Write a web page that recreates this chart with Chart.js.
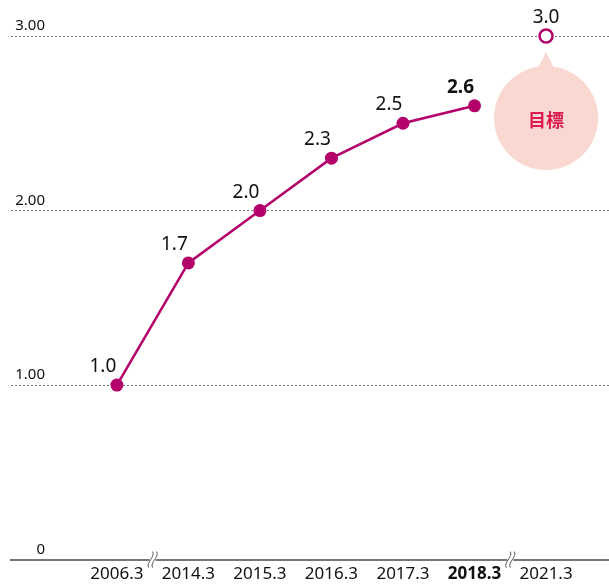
<!DOCTYPE html>
<html>
<head>
<meta charset="utf-8">
<style>
html,body{margin:0;padding:0;background:#fff;}
#wrap{width:609px;height:588px;position:relative;}
</style>
<script src="https://cdn.jsdelivr.net/npm/chart.js@4/dist/chart.umd.min.js"></script>
</head>
<body>
<div id="wrap"><canvas id="c" width="609" height="588"></canvas></div>
<script>
const categories = ['2006.3','2014.3','2015.3','2016.3','2017.3','2018.3','2021.3'];
const actualValues = [1.0, 1.7, 2.0, 2.3, 2.5, 2.6];
const targetValue = 3.0;
const targetIndex = 6;
const yTicks = [0, 1.00, 2.00, 3.00];
const yTickLabels = ['0', '1.00', '2.00', '3.00'];
const boldCategory = '2018.3';
const targetLabel = '目標';
const breaksAfter = [0, 5];

const MAG = '#b3006b';
const FONT = '"Noto Sans", "Open Sans", sans-serif';

const actualData = actualValues.map((v, i) => ({x: i, y: v}));
const targetData = [{x: targetIndex, y: targetValue}];

const decoPlugin = {
  id: 'deco',
  beforeDatasetsDraw(chart) {
    const ctx = chart.ctx;
    const xs = chart.scales.x, ys = chart.scales.y;
    // y tick labels, right-aligned above the grid lines
    ctx.save();
    ctx.fillStyle = '#111';
    ctx.font = '15px ' + FONT;
    ctx.textAlign = 'right';
    ctx.textBaseline = 'alphabetic';
    yTicks.forEach((v, i) => {
      ctx.fillText(yTickLabels[i], chart.chartArea.left + 34, ys.getPixelForValue(v) - 6);
    });
    ctx.restore();
    // target bubble
    const tx = xs.getPixelForValue(targetIndex), ty = ys.getPixelForValue(targetValue);
    ctx.save();
    const bcx = tx, bcy = ty + 82, r = 52;
    ctx.fillStyle = '#f8d8d0';
    ctx.beginPath();
    ctx.arc(bcx, bcy, r, 0, Math.PI * 2);
    ctx.fill();
    ctx.beginPath();
    ctx.moveTo(bcx, ty + 16);
    ctx.lineTo(bcx - 11, bcy - r + 8);
    ctx.lineTo(bcx + 11, bcy - r + 8);
    ctx.closePath();
    ctx.fill();
    ctx.fillStyle = '#dc1a4f';
    ctx.font = 'bold 18px "Noto Sans CJK JP", sans-serif';
    ctx.textAlign = 'center';
    ctx.textBaseline = 'middle';
    ctx.fillText(targetLabel, bcx, bcy + 2);
    ctx.restore();
  },
  afterDatasetsDraw(chart) {
    const ctx = chart.ctx;
    const xs = chart.scales.x, ys = chart.scales.y;
    const yAxis = ys.getPixelForValue(0);
    breaksAfter.forEach(b => {
      const cx = xs.getPixelForValue(b + 0.5);
      ctx.save();
      ctx.fillStyle = '#fff';
      ctx.fillRect(cx - 3, yAxis - 2, 6, 4);
      ctx.strokeStyle = '#555';
      ctx.lineWidth = 1;
      [-2, 2].forEach(dx => {
        ctx.beginPath();
        ctx.moveTo(cx + dx + 2, yAxis - 8);
        ctx.bezierCurveTo(cx + dx + 5, yAxis - 3, cx + dx - 5, yAxis + 3, cx + dx - 2, yAxis + 8);
        ctx.stroke();
      });
      ctx.restore();
    });
    ctx.save();
    ctx.textAlign = 'center';
    ctx.textBaseline = 'alphabetic';
    ctx.fillStyle = '#111';
    actualValues.forEach((v, i) => {
      const px = xs.getPixelForValue(i), py = ys.getPixelForValue(v);
      ctx.font = (categories[i] === boldCategory ? 'bold ' : '') + '19px ' + FONT;
      ctx.fillText(v.toFixed(1), px - 14, py - 13);
    });
    const tx = xs.getPixelForValue(targetIndex), ty = ys.getPixelForValue(targetValue);
    ctx.font = '19px ' + FONT;
    ctx.fillText(targetValue.toFixed(1), tx, ty - 13);
    ctx.restore();
  }
};

new Chart(document.getElementById('c'), {
  type: 'line',
  data: {
    datasets: [
      {
        data: actualData,
        borderColor: MAG,
        backgroundColor: MAG,
        borderWidth: 2.5,
        pointRadius: 6.5,
        pointBackgroundColor: MAG,
        pointBorderWidth: 0,
        tension: 0
      },
      {
        data: targetData,
        showLine: false,
        clip: false,
        borderColor: MAG,
        pointRadius: 6.5,
        pointBackgroundColor: '#fff',
        pointBorderColor: MAG,
        pointBorderWidth: 2.5
      }
    ]
  },
  options: {
    responsive: false,
    animation: false,
    layout: {autoPadding: false, padding: {left: 11, right: 0, top: 36, bottom: 0}},
    plugins: {legend: {display: false}, tooltip: {enabled: false}},
    scales: {
      x: {
        type: 'linear',
        min: -1.48,
        max: 6.88,
        afterBuildTicks: s => { s.ticks = categories.map((c, i) => ({value: i})); },
        afterFit: s => { s.paddingRight = 0; s.paddingLeft = 0; },
        grid: {display: false, drawTicks: false},
        border: {display: true, color: '#777', width: 2},
        ticks: {
          autoSkip: false,
          maxRotation: 0,
          padding: 4,
          color: '#111',
          font: ctx => ({family: FONT, size: 17, weight: categories[ctx.index] === boldCategory ? 'bold' : 'normal'}),
          callback: (v, i) => categories[i]
        }
      },
      y: {
        min: 0,
        max: 3,
        afterBuildTicks: s => { s.ticks = yTicks.map(v => ({value: v})); },
        afterFit: s => { s.width = 0; },
        grid: {
          drawTicks: false,
          color: ctx => ctx.tick && ctx.tick.value === 0 ? 'rgba(0,0,0,0)' : '#777',
          lineWidth: 1
        },
        border: {display: false, dash: [2, 2]},
        ticks: {display: false}
      }
    }
  },
  plugins: [decoPlugin]
});
</script>
</body>
</html>
